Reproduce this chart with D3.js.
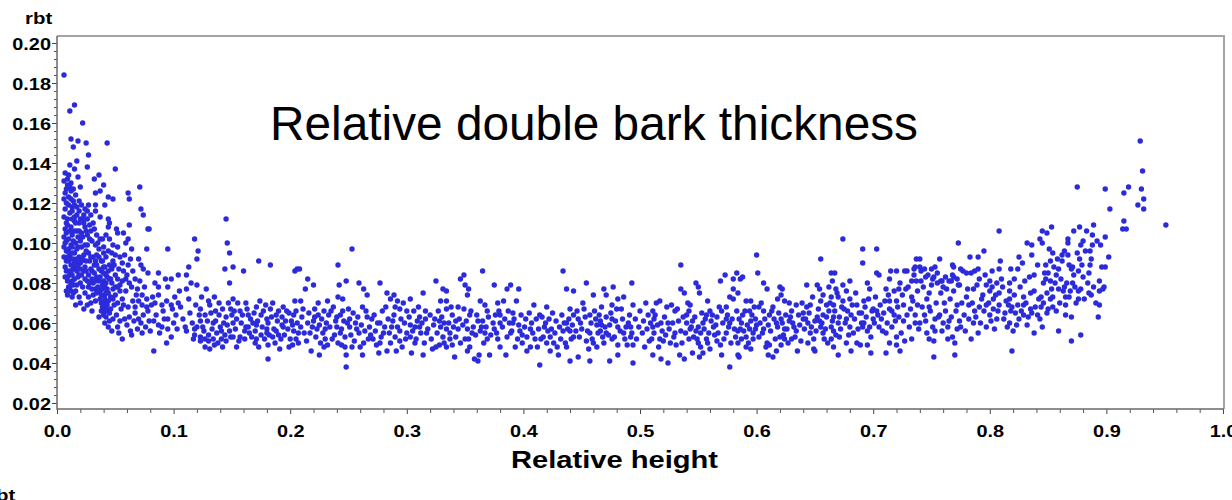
<!DOCTYPE html>
<html>
<head>
<meta charset="utf-8">
<script src="https://cdn.jsdelivr.net/npm/d3@7"></script>
<style>
  body { margin: 0; background: #fff; }
  svg { display: block; }
</style>
</head>
<body>
<svg id="chart" width="1232" height="500"></svg>
<script>
// Tick values for both axes
const xMajorTicks = [0, 0.1, 0.2, 0.3, 0.4, 0.5, 0.6, 0.7, 0.8, 0.9, 1.0];
const yMajorTicks = [0.02, 0.04, 0.06, 0.08, 0.10, 0.12, 0.14, 0.16, 0.18, 0.20];

// Relative double bark thickness (rbt) against relative height, [height, rbt]
// Stem base, where bark is thickest and most variable
const baseSection = [
  [0.006,0.184],[0.011,0.166],[0.015,0.169],[0.022,0.160],[0.012,0.152],[0.014,0.148],[0.018,0.151],[0.025,0.150],[0.043,0.150],
  [0.027,0.144],[0.026,0.138],[0.050,0.137],[0.017,0.141],[0.011,0.139],[0.015,0.137],[0.010,0.134],[0.018,0.133],[0.032,0.132],
  [0.036,0.134],[0.040,0.129],[0.071,0.128],[0.007,0.125],[0.011,0.128],[0.020,0.128],[0.033,0.125],[0.037,0.126],[0.044,0.123],
  [0.048,0.122],[0.061,0.125],[0.062,0.122],[0.008,0.120],[0.013,0.118],[0.027,0.119],[0.033,0.119],[0.041,0.119],[0.072,0.117],
  [0.074,0.114],[0.011,0.115],[0.015,0.113],[0.023,0.114],[0.026,0.116],[0.033,0.116],[0.037,0.113],[0.044,0.112],[0.045,0.110],
  [0.062,0.109],[0.078,0.107],[0.009,0.109],[0.015,0.111],[0.019,0.110],[0.024,0.108],[0.028,0.109],[0.031,0.110],[0.044,0.108],
  [0.051,0.107],[0.052,0.105],[0.057,0.105],[0.061,0.102],[0.008,0.105],[0.013,0.104],[0.017,0.106],[0.022,0.103],[0.026,0.104],
  [0.034,0.104],[0.037,0.102],[0.045,0.102],[0.008,0.101],[0.012,0.099],[0.016,0.100],[0.020,0.101],[0.024,0.099],[0.033,0.099],
  [0.040,0.098],[0.048,0.099],[0.052,0.098],[0.059,0.100],[0.064,0.097],[0.095,0.097],[0.008,0.096],[0.011,0.094],[0.015,0.095],
  [0.019,0.093],[0.023,0.094],[0.027,0.095],[0.031,0.093],[0.034,0.094],[0.042,0.093],[0.047,0.095],[0.054,0.093],[0.058,0.094],
  [0.063,0.092],[0.070,0.092],[0.008,0.091],[0.012,0.089],[0.016,0.091],[0.020,0.090],[0.024,0.088],[0.028,0.091],[0.032,0.089],
  [0.038,0.091],[0.041,0.088],[0.045,0.089],[0.048,0.091],[0.056,0.090],[0.061,0.089],[0.072,0.089],[0.074,0.087],[0.008,0.086],
  [0.011,0.084],[0.014,0.087],[0.019,0.084],[0.023,0.086],[0.027,0.084],[0.034,0.083],[0.038,0.086],[0.042,0.084],[0.047,0.087],
  [0.050,0.084],[0.052,0.082],[0.059,0.082],[0.067,0.082],[0.078,0.085],[0.087,0.085],[0.009,0.081],[0.015,0.082],[0.020,0.080],
  [0.026,0.081],[0.030,0.082],[0.036,0.081],[0.039,0.079],[0.042,0.080],[0.045,0.082],[0.054,0.079],[0.062,0.080],[0.071,0.081],
  [0.084,0.080],[0.093,0.082],[0.098,0.082],[0.011,0.078],[0.012,0.076],[0.016,0.076],[0.027,0.078],[0.033,0.077],[0.037,0.076],
  [0.041,0.078],[0.044,0.075],[0.048,0.077],[0.052,0.078],[0.069,0.077],[0.075,0.078],[0.087,0.078],[0.095,0.078],[0.009,0.074],
  [0.013,0.073],[0.027,0.073],[0.031,0.074],[0.038,0.074],[0.041,0.072],[0.048,0.072],[0.056,0.072],[0.065,0.071],[0.073,0.074],
  [0.077,0.072],[0.082,0.073],[0.087,0.074],[0.094,0.071],[0.016,0.069],[0.023,0.067],[0.029,0.070],[0.038,0.070],[0.039,0.068],
  [0.041,0.066],[0.049,0.069],[0.057,0.069],[0.067,0.068],[0.073,0.069],[0.081,0.069],[0.090,0.069],[0.098,0.069],[0.036,0.063],
  [0.040,0.064],[0.043,0.066],[0.051,0.064],[0.058,0.062],[0.067,0.065],[0.074,0.064],[0.079,0.061],[0.087,0.059],[0.095,0.062],
  [0.047,0.056],[0.056,0.052],[0.094,0.050],[0.098,0.053],[0.069,0.057],[0.076,0.058],[0.063,0.056],[0.083,0.046],[0.077,0.097],
  [0.079,0.107],
  [0.006,0.131],[0.009,0.129],[0.012,0.126],[0.006,0.122],[0.010,0.123],[0.014,0.121],[0.007,0.117],[0.013,0.116],[0.017,0.118],
  [0.006,0.113],[0.009,0.112],[0.016,0.110],[0.007,0.107],[0.011,0.106],[0.019,0.106],[0.006,0.103],[0.010,0.102],[0.014,0.101],
  [0.018,0.098],[0.006,0.098],[0.009,0.096],[0.013,0.095],[0.017,0.092],[0.006,0.093],[0.010,0.091],[0.014,0.092],[0.021,0.091],
  [0.007,0.088],[0.012,0.086],[0.016,0.088],[0.020,0.087],[0.009,0.083],[0.013,0.081],[0.018,0.083],[0.024,0.082],[0.010,0.078],
  [0.014,0.079],[0.008,0.076],[0.025,0.096],[0.028,0.102],[0.022,0.112],[0.030,0.086],[0.034,0.089],[0.036,0.097],[0.040,0.085],
  [0.043,0.077],[0.044,0.071],[0.042,0.068],[0.045,0.065],[0.041,0.074],[0.046,0.082],[0.039,0.091],[0.047,0.088],[0.035,0.078],
  [0.031,0.080],
  [0.007,0.135],[0.009,0.132],[0.012,0.130],[0.014,0.127],[0.016,0.124],[0.019,0.121],[0.008,0.127],[0.012,0.122],[0.015,0.119],
  [0.019,0.116],[0.021,0.119],[0.024,0.117],[0.010,0.119],[0.013,0.112],[0.017,0.114],[0.020,0.112],[0.023,0.110],[0.026,0.112],
  [0.029,0.114],[0.008,0.110],[0.012,0.108],[0.015,0.106],[0.018,0.103],[0.021,0.105],[0.025,0.106],[0.029,0.106],[0.032,0.107],
  [0.007,0.100],[0.010,0.097],[0.013,0.098],[0.017,0.097],[0.021,0.098],[0.026,0.099],[0.030,0.101],[0.035,0.100],[0.039,0.102],
  [0.042,0.104],[0.009,0.093],[0.012,0.092],[0.015,0.090],[0.018,0.089],[0.022,0.092],[0.025,0.091],[0.029,0.093],[0.033,0.091],
  [0.036,0.093],[0.040,0.095],[0.044,0.096],[0.050,0.094],[0.007,0.083],[0.010,0.086],[0.013,0.084],[0.017,0.086],[0.021,0.084],
  [0.025,0.086],[0.029,0.087],[0.032,0.085],[0.036,0.087],[0.040,0.088],[0.044,0.086],[0.049,0.089],[0.053,0.087],[0.057,0.086],
  [0.012,0.080],[0.017,0.079],[0.022,0.078],[0.028,0.080],[0.033,0.081],[0.037,0.083],[0.040,0.081],[0.043,0.083],[0.047,0.080],
  [0.050,0.078],[0.056,0.081],[0.060,0.084],[0.065,0.086],[0.014,0.075],[0.019,0.073],[0.024,0.075],[0.030,0.077],[0.034,0.075],
  [0.039,0.077],[0.042,0.075],[0.046,0.073],[0.050,0.074],[0.054,0.076],[0.059,0.076],[0.064,0.078],[0.068,0.074],[0.020,0.070],
  [0.026,0.069],[0.033,0.071],[0.037,0.072],[0.040,0.070],[0.043,0.069],[0.046,0.067],[0.052,0.070],[0.055,0.067],[0.061,0.068],
  [0.070,0.071],[0.077,0.068],[0.084,0.070],[0.030,0.066],[0.038,0.066],[0.042,0.063],[0.045,0.061],[0.048,0.062],[0.054,0.061],
  [0.062,0.063],[0.070,0.062],[0.078,0.066],[0.085,0.064],[0.091,0.066],[0.099,0.067],[0.041,0.060],[0.044,0.058],[0.052,0.058],
  [0.060,0.059],[0.066,0.061],[0.072,0.060],[0.083,0.061],[0.090,0.058],[0.092,0.062],[0.100,0.060],[0.053,0.055],[0.064,0.054],
  [0.073,0.055],[0.080,0.056],[0.088,0.055],[0.095,0.057],[0.103,0.057],
  [0.104,0.084],[0.105,0.076],[0.101,0.073],[0.104,0.070],[0.102,0.064],[0.145,0.112],[0.146,0.100],[0.148,0.095],[0.118,0.102],
  [0.121,0.096],[0.120,0.092],[0.113,0.088],[0.144,0.087],[0.148,0.080],[0.111,0.084],[0.115,0.080],[0.111,0.077],[0.120,0.079],
  [0.124,0.073],[0.128,0.077],[0.130,0.071],[0.123,0.067],[0.127,0.064],[0.131,0.069],[0.135,0.073],[0.136,0.066],[0.139,0.070],
  [0.142,0.067],[0.145,0.063],[0.149,0.067],[0.123,0.061],[0.120,0.058],[0.134,0.060],[0.140,0.058],[0.111,0.056],[0.117,0.052],
  [0.118,0.054],[0.123,0.053],[0.123,0.051],[0.127,0.048],[0.131,0.047],[0.130,0.051],[0.134,0.052],[0.138,0.050],[0.141,0.052],
  [0.145,0.051],[0.148,0.056],
  [0.106,0.068],[0.108,0.062],[0.110,0.058],[0.113,0.072],[0.114,0.065],[0.116,0.060],[0.118,0.057],[0.119,0.069],[0.122,0.064],
  [0.125,0.058],[0.126,0.056],[0.129,0.061],[0.130,0.054],[0.132,0.065],[0.133,0.057],[0.136,0.061],[0.137,0.055],[0.139,0.064],
  [0.141,0.056],[0.143,0.060],[0.144,0.054],[0.146,0.059],[0.147,0.070],[0.149,0.053],[0.150,0.064],[0.127,0.052],[0.135,0.049],
  [0.142,0.048]
];

// Middle of the stem, where rbt levels off
const midSection = [
  [0.151,0.088],[0.160,0.086],[0.173,0.091],[0.183,0.089],[0.204,0.086],[0.206,0.087],[0.151,0.072],[0.154,0.062],[0.157,0.066],
  [0.162,0.070],[0.164,0.064],[0.168,0.060],[0.171,0.068],[0.174,0.071],[0.177,0.066],[0.180,0.062],[0.183,0.067],[0.185,0.070],
  [0.188,0.064],[0.193,0.059],[0.194,0.068],[0.197,0.066],[0.201,0.061],[0.204,0.071],[0.205,0.066],[0.151,0.060],[0.162,0.058],
  [0.171,0.059],[0.180,0.057],[0.188,0.056],[0.194,0.058],[0.203,0.056],[0.151,0.053],[0.154,0.048],[0.157,0.053],[0.161,0.056],
  [0.165,0.055],[0.170,0.050],[0.171,0.052],[0.175,0.054],[0.180,0.055],[0.181,0.049],[0.181,0.042],[0.185,0.053],[0.190,0.054],
  [0.192,0.052],[0.199,0.048],[0.202,0.049],[0.205,0.052],[0.207,0.055],
  [0.152,0.066],[0.153,0.057],[0.155,0.070],[0.156,0.051],[0.158,0.060],[0.159,0.064],[0.161,0.052],[0.163,0.067],[0.164,0.058],
  [0.166,0.062],[0.167,0.053],[0.169,0.065],[0.170,0.056],[0.172,0.061],[0.173,0.048],[0.175,0.064],[0.176,0.058],[0.178,0.052],
  [0.179,0.069],[0.181,0.060],[0.182,0.054],[0.184,0.063],[0.186,0.057],[0.187,0.050],[0.189,0.061],[0.190,0.066],[0.191,0.047],
  [0.193,0.063],[0.195,0.054],[0.196,0.061],[0.198,0.057],[0.199,0.065],[0.200,0.052],[0.202,0.059],[0.203,0.064],[0.206,0.060],
  [0.207,0.050],[0.209,0.058],[0.210,0.063],
  [0.253,0.097],[0.241,0.089],[0.208,0.087],[0.215,0.082],[0.220,0.079],[0.213,0.077],[0.209,0.071],[0.224,0.070],[0.232,0.071],
  [0.229,0.066],[0.221,0.067],[0.237,0.068],[0.233,0.064],[0.221,0.063],[0.215,0.060],[0.225,0.059],[0.230,0.057],[0.219,0.058],
  [0.212,0.055],[0.222,0.053],[0.230,0.052],[0.214,0.051],[0.218,0.046],[0.225,0.044],[0.229,0.048],[0.238,0.054],[0.240,0.058],
  [0.241,0.073],[0.242,0.079],[0.248,0.081],[0.245,0.072],[0.245,0.066],[0.240,0.063],[0.246,0.061],[0.251,0.062],[0.250,0.067],
  [0.256,0.060],[0.251,0.058],[0.243,0.055],[0.247,0.048],[0.253,0.048],[0.244,0.049],[0.248,0.044],[0.248,0.038],[0.259,0.080],
  [0.263,0.077],[0.266,0.074],[0.262,0.068],[0.266,0.063],[0.270,0.062],[0.259,0.055],[0.264,0.056],[0.263,0.050],[0.262,0.044],
  [0.269,0.054],[0.271,0.052],[0.274,0.049],[0.276,0.045],[0.277,0.050],[0.280,0.055],[0.277,0.080],[0.283,0.075],[0.279,0.066],
  [0.277,0.060],[0.284,0.062],[0.287,0.058],[0.286,0.072],[0.289,0.074],[0.292,0.071],[0.294,0.067],[0.297,0.070],[0.300,0.066],
  [0.289,0.064],[0.290,0.053],[0.294,0.056],[0.291,0.046],[0.283,0.046],[0.286,0.050],[0.294,0.051],[0.300,0.055],[0.303,0.053],
  [0.211,0.067],[0.216,0.065],[0.217,0.055],[0.220,0.061],[0.223,0.057],[0.224,0.064],[0.226,0.050],[0.227,0.062],[0.228,0.055],
  [0.231,0.060],[0.232,0.049],[0.234,0.058],[0.235,0.066],[0.236,0.052],[0.239,0.061],[0.241,0.050],[0.243,0.064],[0.244,0.057],
  [0.247,0.053],[0.249,0.060],[0.252,0.054],[0.254,0.065],[0.255,0.051],[0.257,0.057],[0.258,0.063],[0.260,0.048],[0.261,0.059],
  [0.265,0.066],[0.267,0.052],[0.268,0.058],[0.272,0.064],[0.273,0.056],[0.275,0.060],[0.278,0.053],[0.281,0.058],[0.282,0.068],
  [0.285,0.055],[0.288,0.061],[0.290,0.068],[0.292,0.058],[0.295,0.062],[0.296,0.048],[0.298,0.060],[0.299,0.052],
  [0.307,0.050],[0.304,0.045],[0.314,0.044],[0.303,0.059],[0.307,0.058],[0.309,0.061],[0.303,0.072],[0.310,0.068],[0.316,0.066],
  [0.314,0.075],[0.311,0.063],[0.312,0.055],[0.317,0.055],[0.323,0.059],[0.322,0.047],[0.325,0.048],[0.325,0.081],[0.331,0.077],
  [0.334,0.076],[0.329,0.071],[0.334,0.071],[0.334,0.067],[0.328,0.061],[0.332,0.060],[0.329,0.058],[0.334,0.057],[0.331,0.053],
  [0.328,0.049],[0.334,0.048],[0.337,0.052],[0.339,0.049],[0.341,0.043],[0.344,0.057],[0.342,0.061],[0.339,0.064],[0.344,0.068],
  [0.346,0.082],[0.349,0.084],[0.350,0.079],[0.352,0.074],[0.353,0.077],[0.349,0.067],[0.354,0.064],[0.352,0.057],[0.356,0.055],
  [0.350,0.052],[0.354,0.048],[0.352,0.046],[0.358,0.042],[0.361,0.041],[0.361,0.061],[0.363,0.071],[0.365,0.086],[0.367,0.069],
  [0.369,0.066],[0.364,0.058],[0.367,0.055],[0.369,0.052],[0.366,0.050],[0.362,0.044],[0.371,0.044],[0.375,0.079],[0.378,0.070],
  [0.380,0.064],[0.376,0.064],[0.380,0.060],[0.375,0.057],[0.378,0.052],[0.380,0.048],[0.385,0.044],[0.386,0.077],[0.389,0.079],
  [0.383,0.071],[0.387,0.066],[0.391,0.065],[0.394,0.071],[0.396,0.077],[0.391,0.060],[0.389,0.055],[0.393,0.048],[0.397,0.056],
  [0.302,0.063],[0.305,0.056],[0.306,0.066],[0.308,0.052],[0.311,0.058],[0.313,0.060],[0.315,0.050],[0.316,0.062],[0.318,0.057],
  [0.320,0.064],[0.321,0.052],[0.324,0.062],[0.326,0.055],[0.327,0.066],[0.330,0.063],[0.332,0.050],[0.336,0.060],[0.337,0.055],
  [0.338,0.068],[0.340,0.058],[0.342,0.053],[0.345,0.062],[0.346,0.050],[0.348,0.059],[0.351,0.061],[0.353,0.052],[0.355,0.066],
  [0.357,0.058],[0.359,0.054],[0.360,0.064],[0.363,0.056],[0.365,0.061],[0.368,0.058],[0.370,0.063],[0.372,0.054],[0.374,0.060],
  [0.377,0.055],[0.379,0.066],[0.382,0.058],[0.384,0.062],[0.386,0.053],[0.388,0.060],[0.390,0.056],[0.392,0.062],[0.395,0.052],
  [0.396,0.059],[0.398,0.064],[0.399,0.050],
  [0.399,0.054],[0.402,0.062],[0.406,0.057],[0.409,0.069],[0.410,0.052],[0.406,0.048],[0.403,0.046],[0.414,0.039],[0.414,0.064],
  [0.418,0.058],[0.420,0.068],[0.421,0.056],[0.417,0.053],[0.423,0.053],[0.426,0.050],[0.429,0.048],[0.423,0.046],[0.430,0.044],
  [0.434,0.086],[0.437,0.077],[0.443,0.076],[0.440,0.067],[0.443,0.064],[0.437,0.060],[0.434,0.056],[0.440,0.056],[0.443,0.053],
  [0.437,0.048],[0.440,0.041],[0.447,0.062],[0.451,0.070],[0.454,0.080],[0.452,0.067],[0.457,0.064],[0.460,0.074],[0.461,0.066],
  [0.463,0.059],[0.457,0.055],[0.454,0.051],[0.460,0.050],[0.447,0.043],[0.457,0.041],[0.463,0.048],
  [0.401,0.058],[0.403,0.053],[0.405,0.065],[0.407,0.060],[0.408,0.055],[0.411,0.062],[0.412,0.048],[0.413,0.057],[0.415,0.052],
  [0.416,0.063],[0.419,0.060],[0.420,0.050],[0.422,0.062],[0.424,0.057],[0.425,0.065],[0.427,0.055],[0.428,0.061],[0.431,0.058],
  [0.432,0.052],[0.433,0.064],[0.435,0.060],[0.436,0.050],[0.438,0.057],[0.439,0.062],[0.441,0.052],[0.442,0.059],[0.445,0.056],
  [0.446,0.066],[0.448,0.053],[0.449,0.060],[0.450,0.057],[0.453,0.063],[0.455,0.056],[0.456,0.047],[0.458,0.060],[0.459,0.052],
  [0.462,0.062],[0.464,0.055],[0.466,0.061],[0.468,0.053],[0.470,0.058],[0.473,0.054],[0.475,0.065],[0.479,0.061],[0.483,0.056],
  [0.485,0.062],[0.487,0.052],[0.488,0.058],[0.490,0.060],[0.493,0.055],[0.496,0.062],[0.497,0.052],[0.499,0.058],[0.500,0.066],
  [0.502,0.055],[0.503,0.061],[0.504,0.048],[0.505,0.070],[0.506,0.057],[0.507,0.064],[0.508,0.051],[0.509,0.060],
  [0.535,0.089],[0.493,0.080],[0.469,0.077],[0.477,0.078],[0.471,0.074],[0.486,0.073],[0.481,0.072],[0.467,0.068],[0.476,0.069],
  [0.480,0.067],[0.484,0.067],[0.465,0.064],[0.471,0.063],[0.476,0.062],[0.491,0.064],[0.494,0.069],[0.467,0.059],[0.474,0.059],
  [0.481,0.058],[0.492,0.058],[0.466,0.056],[0.471,0.055],[0.478,0.053],[0.486,0.055],[0.492,0.053],[0.469,0.050],[0.476,0.052],
  [0.481,0.049],[0.489,0.049],[0.494,0.049],[0.474,0.041],[0.481,0.044],[0.494,0.040],[0.514,0.070],[0.517,0.071],[0.511,0.066],
  [0.512,0.062],[0.518,0.060],[0.524,0.060],[0.511,0.058],[0.517,0.052],[0.520,0.051],[0.510,0.052],[0.511,0.044],[0.518,0.042],
  [0.524,0.040],[0.527,0.069],[0.530,0.066],[0.532,0.067],[0.530,0.055],[0.531,0.049],[0.534,0.044],[0.535,0.077],[0.538,0.075],
  [0.540,0.064],[0.542,0.066],[0.543,0.069],[0.540,0.060],[0.545,0.061],[0.543,0.057],[0.548,0.080],[0.550,0.078],[0.551,0.075],
  [0.546,0.053],[0.550,0.058],[0.552,0.055],[0.554,0.060],[0.557,0.052],[0.558,0.071],[0.560,0.066],[0.557,0.064],[0.561,0.061],
  [0.558,0.050],[0.550,0.050],[0.552,0.048],[0.545,0.045],[0.554,0.045],[0.538,0.042],[0.551,0.043],[0.563,0.058],[0.564,0.054],
  [0.566,0.051],[0.569,0.049],[0.566,0.063],[0.570,0.066],[0.570,0.044],[0.569,0.081],[0.573,0.084],[0.580,0.082],[0.583,0.085],
  [0.586,0.082],[0.580,0.077],[0.584,0.075],[0.577,0.073],[0.574,0.068],[0.580,0.072],[0.583,0.066],[0.574,0.062],[0.577,0.060],
  [0.584,0.056],[0.582,0.053],[0.586,0.057],[0.587,0.052],[0.574,0.055],[0.584,0.050],[0.584,0.044],[0.585,0.043],[0.577,0.038],
  [0.512,0.055],[0.513,0.064],[0.515,0.059],[0.516,0.048],[0.519,0.056],[0.521,0.063],[0.522,0.054],[0.523,0.068],[0.525,0.057],
  [0.526,0.050],[0.528,0.060],[0.529,0.053],[0.533,0.061],[0.535,0.056],[0.536,0.050],[0.537,0.063],[0.539,0.055],[0.541,0.070],
  [0.542,0.052],[0.544,0.058],[0.547,0.063],[0.548,0.056],[0.549,0.052],[0.553,0.065],[0.555,0.057],[0.556,0.062],[0.559,0.055],
  [0.560,0.047],[0.562,0.064],[0.565,0.059],[0.567,0.055],[0.568,0.068],[0.571,0.060],[0.572,0.052],[0.575,0.064],[0.576,0.058],
  [0.578,0.050],[0.579,0.062],[0.581,0.057],[0.585,0.062],[0.589,0.056],[0.590,0.066],[0.592,0.059],[0.593,0.050],[0.596,0.064],
  [0.597,0.052],[0.599,0.062],
  [0.588,0.083],[0.591,0.071],[0.595,0.071],[0.594,0.066],[0.598,0.068],[0.588,0.064],[0.587,0.060],[0.591,0.053],[0.595,0.061],
  [0.594,0.057],[0.600,0.059],[0.595,0.047],[0.591,0.048],[0.600,0.094],[0.601,0.085],[0.606,0.080],[0.609,0.077],[0.602,0.068],
  [0.606,0.066],[0.599,0.057],[0.597,0.055],[0.602,0.053],[0.606,0.057],[0.611,0.064],[0.609,0.050],[0.611,0.049],[0.610,0.044],
  [0.614,0.043],[0.617,0.046],[0.614,0.068],[0.618,0.072],[0.621,0.074],[0.620,0.078],[0.622,0.077],[0.624,0.071],[0.621,0.062],
  [0.617,0.060],[0.624,0.057],[0.620,0.053],[0.624,0.052],[0.621,0.049],[0.628,0.070],[0.630,0.066],[0.634,0.069],[0.628,0.061],
  [0.631,0.060],[0.634,0.056],[0.630,0.052],[0.635,0.046],[0.640,0.065],[0.643,0.068],[0.646,0.069],[0.643,0.079],[0.640,0.062],
  [0.644,0.060],[0.641,0.057],[0.646,0.055],[0.649,0.052],[0.644,0.050],[0.649,0.047],[0.650,0.046],[0.652,0.079],[0.654,0.077],
  [0.655,0.092],[0.655,0.071],[0.652,0.063],[0.657,0.064],[0.654,0.061],[0.655,0.058],[0.651,0.056],[0.657,0.055],[0.658,0.052],
  [0.664,0.085],[0.667,0.085],[0.665,0.081],[0.662,0.078],[0.668,0.077],[0.664,0.073],[0.670,0.073],[0.660,0.069],[0.666,0.069],
  [0.662,0.066],[0.666,0.063],[0.670,0.060],[0.664,0.058],[0.666,0.056],[0.671,0.053],[0.664,0.052],[0.666,0.048],[0.670,0.044],
  [0.674,0.102],[0.674,0.079],[0.680,0.081],[0.677,0.076],[0.674,0.071],[0.680,0.072],[0.675,0.067],[0.681,0.064],[0.677,0.062],
  [0.680,0.058],[0.683,0.055],[0.677,0.050],[0.681,0.046],[0.686,0.050],[0.689,0.049],[0.686,0.069],[0.690,0.065],[0.692,0.071],
  [0.691,0.097],[0.691,0.090],[0.703,0.097],[0.695,0.080],[0.697,0.077],[0.692,0.060],[0.691,0.058],[0.695,0.056],[0.698,0.053],
  [0.695,0.049],[0.698,0.045],[0.703,0.085],[0.705,0.084],[0.700,0.067],[0.703,0.066],[0.707,0.062],[0.700,0.062],[0.705,0.058],
  [0.710,0.071],[0.713,0.074],[0.711,0.077],[0.714,0.082],[0.715,0.086],[0.720,0.086],[0.722,0.077],[0.720,0.071],[0.714,0.067],
  [0.718,0.064],[0.711,0.055],[0.716,0.058],[0.720,0.053],[0.714,0.050],[0.720,0.049],[0.711,0.045],[0.723,0.046],[0.722,0.063],
  [0.603,0.060],[0.604,0.070],[0.605,0.055],[0.607,0.062],[0.608,0.048],[0.610,0.059],[0.612,0.056],[0.613,0.066],[0.615,0.062],
  [0.616,0.052],[0.618,0.058],[0.619,0.065],[0.622,0.060],[0.623,0.054],[0.625,0.064],[0.626,0.057],[0.627,0.050],[0.629,0.063],
  [0.632,0.058],[0.633,0.053],[0.636,0.064],[0.637,0.059],[0.638,0.051],[0.639,0.070],[0.642,0.062],[0.645,0.065],[0.647,0.058],
  [0.648,0.073],[0.650,0.061],[0.653,0.067],[0.656,0.060],[0.657,0.074],[0.659,0.057],[0.660,0.063],[0.661,0.050],[0.663,0.070],
  [0.665,0.061],[0.667,0.066],[0.668,0.054],[0.669,0.075],[0.671,0.063],[0.672,0.057],[0.673,0.068],[0.676,0.060],[0.678,0.066],
  [0.679,0.054],[0.682,0.069],[0.684,0.062],[0.685,0.075],[0.687,0.057],[0.688,0.065],[0.690,0.060],[0.693,0.068],[0.694,0.063],
  [0.696,0.072],[0.697,0.058],[0.699,0.066],[0.701,0.060],[0.702,0.073],[0.704,0.064],[0.706,0.069],[0.708,0.056],[0.709,0.065],
  [0.712,0.060],[0.714,0.071],[0.716,0.066],[0.718,0.076],[0.719,0.061],[0.721,0.068]
];

// Upper stem and crown, where rbt rises again
const crownSection = [
  [0.929,0.151],[0.931,0.136],[0.875,0.128],[0.899,0.127],[0.915,0.125],[0.919,0.128],[0.930,0.127],[0.932,0.122],[0.927,0.119],
  [0.932,0.117],[0.903,0.117],[0.951,0.109],[0.915,0.111],[0.914,0.107],[0.917,0.107],[0.889,0.109],[0.877,0.108],[0.872,0.106],
  [0.883,0.106],[0.888,0.104],[0.899,0.103],[0.895,0.099],[0.888,0.099],[0.880,0.101],[0.878,0.099],[0.867,0.102],[0.867,0.100],
  [0.886,0.096],[0.902,0.093],[0.899,0.088],[0.886,0.089],[0.885,0.085],[0.877,0.092],[0.876,0.086],[0.880,0.083],[0.871,0.088],
  [0.872,0.084],[0.868,0.089],[0.866,0.080],[0.869,0.076],[0.862,0.094],[0.864,0.096],[0.862,0.091],[0.854,0.095],[0.859,0.087],
  [0.857,0.084],[0.855,0.088],[0.850,0.085],[0.852,0.091],[0.848,0.089],[0.853,0.108],[0.849,0.105],[0.845,0.106],[0.843,0.102],
  [0.845,0.100],[0.836,0.099],[0.832,0.100],[0.836,0.094],[0.825,0.093],[0.838,0.084],[0.830,0.081],[0.848,0.082],[0.846,0.080],
  [0.852,0.081],[0.853,0.077],[0.859,0.077],[0.864,0.078],[0.873,0.078],[0.876,0.076],[0.885,0.075],[0.894,0.076],[0.808,0.106],
  [0.795,0.096],[0.790,0.093],[0.773,0.100],[0.809,0.091],[0.824,0.087],[0.818,0.087],[0.821,0.082],[0.808,0.087],[0.802,0.086],
  [0.800,0.081],[0.806,0.080],[0.811,0.078],[0.817,0.076],[0.808,0.075],[0.790,0.087],[0.791,0.082],[0.797,0.079],[0.800,0.076],
  [0.787,0.086],[0.786,0.077],[0.784,0.085],[0.780,0.085],[0.775,0.087],[0.769,0.088],[0.769,0.083],[0.774,0.079],[0.767,0.081],
  [0.763,0.077],[0.757,0.092],[0.753,0.088],[0.750,0.087],[0.745,0.083],[0.741,0.081],[0.737,0.081],[0.733,0.081],[0.729,0.086],
  [0.737,0.092],[0.740,0.092],[0.736,0.088],[0.740,0.088],[0.744,0.087],[0.752,0.083],[0.755,0.080],[0.759,0.081],[0.760,0.078],
  [0.727,0.086],[0.735,0.087],[0.751,0.082],[0.758,0.081],[0.765,0.081],[0.768,0.089],[0.768,0.084],[0.773,0.079],[0.725,0.074],
  [0.728,0.077],[0.733,0.073],[0.748,0.075],[0.780,0.073],[0.794,0.074],[0.803,0.072],[0.817,0.072],[0.829,0.073],[0.835,0.075],
  [0.844,0.073],[0.852,0.072],[0.865,0.073],[0.876,0.072],[0.887,0.074],[0.897,0.077],
  [0.894,0.069],[0.893,0.063],[0.870,0.063],[0.865,0.064],[0.859,0.056],[0.870,0.051],[0.878,0.054],[0.854,0.068],[0.849,0.065],
  [0.845,0.058],[0.838,0.055],[0.841,0.064],[0.844,0.068],[0.835,0.067],[0.833,0.063],[0.829,0.064],[0.825,0.062],[0.822,0.065],
  [0.818,0.066],[0.820,0.056],[0.817,0.060],[0.819,0.046],[0.813,0.065],[0.808,0.069],[0.806,0.062],[0.803,0.067],[0.800,0.064],
  [0.797,0.058],[0.791,0.068],[0.790,0.055],[0.788,0.063],[0.786,0.060],[0.784,0.052],[0.778,0.064],[0.775,0.058],[0.772,0.057],
  [0.770,0.050],[0.770,0.044],[0.768,0.053],[0.764,0.052],[0.765,0.061],[0.760,0.060],[0.757,0.064],[0.753,0.062],[0.753,0.056],
  [0.752,0.051],[0.752,0.043],[0.748,0.052],[0.746,0.055],[0.744,0.064],[0.740,0.060],[0.736,0.060],[0.733,0.052],[0.727,0.051],
  [0.726,0.061],[0.724,0.055],[0.732,0.067],[0.738,0.069],[0.748,0.068],[0.762,0.066],[0.772,0.069],[0.782,0.069],[0.797,0.069],
  [0.816,0.069],[0.829,0.069],
  [0.723,0.080],[0.726,0.069],[0.729,0.064],[0.730,0.078],[0.731,0.058],[0.734,0.071],[0.735,0.084],[0.736,0.064],[0.738,0.076],
  [0.739,0.057],[0.741,0.086],[0.742,0.068],[0.743,0.078],[0.745,0.061],[0.746,0.072],[0.747,0.084],[0.749,0.066],[0.750,0.079],
  [0.751,0.058],[0.754,0.070],[0.755,0.085],[0.756,0.063],[0.758,0.075],[0.759,0.056],[0.761,0.070],[0.762,0.083],[0.764,0.058],
  [0.766,0.072],[0.767,0.063],[0.769,0.076],[0.771,0.066],[0.772,0.082],[0.774,0.061],[0.776,0.070],[0.777,0.086],[0.779,0.056],
  [0.781,0.077],[0.782,0.062],[0.783,0.093],[0.785,0.070],[0.787,0.066],[0.789,0.079],[0.792,0.060],[0.793,0.072],[0.795,0.066],
  [0.796,0.084],[0.799,0.070],[0.801,0.061],[0.802,0.078],[0.804,0.057],[0.805,0.074],[0.807,0.066],[0.810,0.082],[0.812,0.062],
  [0.814,0.071],[0.815,0.058],[0.817,0.080],[0.819,0.068],[0.821,0.074],[0.823,0.059],[0.824,0.069],[0.826,0.078],[0.827,0.066],
  [0.828,0.090],[0.831,0.070],[0.832,0.059],[0.834,0.083],[0.836,0.065],[0.838,0.076],[0.839,0.068],[0.841,0.089],[0.842,0.072],
  [0.843,0.062],[0.846,0.070],[0.847,0.085],[0.849,0.075],[0.850,0.067],[0.851,0.097],[0.854,0.073],[0.856,0.080],[0.857,0.066],
  [0.858,0.092],[0.860,0.070],[0.861,0.082],[0.863,0.076],[0.865,0.069],[0.867,0.094],[0.868,0.073],[0.870,0.087],[0.871,0.080],
  [0.874,0.070],[0.875,0.095],[0.878,0.077],[0.879,0.089],[0.881,0.072],[0.882,0.096],[0.884,0.080],[0.887,0.092],[0.889,0.078],
  [0.891,0.070],[0.892,0.101],[0.894,0.081],[0.896,0.088],[0.898,0.078]
];

const margin = { left: 57, right: 1223, top: 36, bottom: 409 };

const svg = d3.select("#chart");

const x = d3.scaleLinear().domain([0, 1]).range([margin.left, margin.right]);
const y = d3.scaleLinear().domain([0.02, 0.20]).range([403, 43]);

const labelFont = "'Liberation Sans', Arial, Helvetica, sans-serif";
const stretch = 1.17;

// Plot frame: light grey on top and right
svg.append("path")
  .attr("d", `M${margin.left},${margin.top}H${margin.right + 1}V${margin.bottom}`)
  .attr("fill", "none")
  .attr("stroke", "#a4a4a4")
  .attr("stroke-width", 2);

// Minor ticks
const xMinor = d3.range(0, 1.0001, 0.02).filter(v => Math.abs(v * 10 - Math.round(v * 10)) > 1e-6);
const yMinor = d3.range(0.02, 0.2035, 0.004).filter(v => Math.abs(v * 50 - Math.round(v * 50)) > 1e-6);

svg.append("g")
  .attr("transform", `translate(0,${margin.bottom})`)
  .call(d3.axisBottom(x).tickValues(xMinor).tickSize(4).tickFormat(""))
  .call(g => g.select(".domain").remove())
  .selectAll("line").attr("stroke", "#555");

svg.append("g")
  .attr("transform", `translate(${margin.left},0)`)
  .call(d3.axisLeft(y).tickValues(yMinor).tickSize(3).tickFormat(""))
  .call(g => g.select(".domain").remove())
  .selectAll("line").attr("stroke", "#555");

// Major x axis
const xAxis = svg.append("g")
  .attr("transform", `translate(0,${margin.bottom})`)
  .call(d3.axisBottom(x).tickValues(xMajorTicks).tickSize(5).tickFormat(d3.format(".1f")));
xAxis.select(".domain").remove();
xAxis.selectAll("line").attr("stroke", "#444");
xAxis.selectAll("text")
  .attr("y", 0).attr("dy", 0)
  .attr("transform", `translate(0,28) scale(${stretch},1)`)
  .attr("fill", "#000")
  .style("font-family", labelFont)
  .style("font-weight", "bold")
  .style("font-size", "17px");

// Major y axis
const yAxis = svg.append("g")
  .attr("transform", `translate(${margin.left},0)`)
  .call(d3.axisLeft(y).tickValues(yMajorTicks).tickSize(5).tickFormat(d3.format(".2f")));
yAxis.select(".domain").remove();
yAxis.selectAll("line").attr("stroke", "#444");
yAxis.selectAll("text")
  .attr("x", 0).attr("dy", "0.36em")
  .attr("transform", `translate(-6,0) scale(${stretch},1)`)
  .attr("fill", "#000")
  .style("font-family", labelFont)
  .style("font-weight", "bold")
  .style("font-size", "17px");

// Axis lines
svg.append("path")
  .attr("d", `M${margin.left},${margin.top}V${margin.bottom}H${margin.right + 1}`)
  .attr("fill", "none")
  .attr("stroke", "#6a6a6a")
  .attr("stroke-width", 1.5);

// Points
const samples = baseSection.concat(midSection, crownSection);
svg.append("g")
  .selectAll("circle")
  .data(samples)
  .join("circle")
  .attr("cx", d => x(d[0]))
  .attr("cy", d => y(d[1]))
  .attr("r", 2.7)
  .attr("fill", "#2b2bdb");

// Axis captions
svg.append("text")
  .attr("transform", `translate(25,24) scale(1.2,1)`)
  .style("font-family", labelFont).style("font-weight", "bold").style("font-size", "17px")
  .text("rbt");

svg.append("text")
  .attr("x", 614.5)
  .attr("y", 468)
  .attr("text-anchor", "middle")
  .attr("textLength", 207)
  .attr("lengthAdjust", "spacingAndGlyphs")
  .style("font-family", labelFont).style("font-weight", "bold").style("font-size", "24px")
  .text("Relative height");

// Caption of the next panel below, cut by the page edge
svg.append("text")
  .attr("transform", `translate(-12,501) scale(1.2,1)`)
  .style("font-family", labelFont).style("font-weight", "bold").style("font-size", "17px")
  .text("rbt");

// Panel title
svg.append("text")
  .attr("x", 270)
  .attr("y", 140)
  .attr("textLength", 648)
  .attr("lengthAdjust", "spacingAndGlyphs")
  .style("font-family", labelFont).style("font-size", "48px")
  .text("Relative double bark thickness");
</script>
</body>
</html>
